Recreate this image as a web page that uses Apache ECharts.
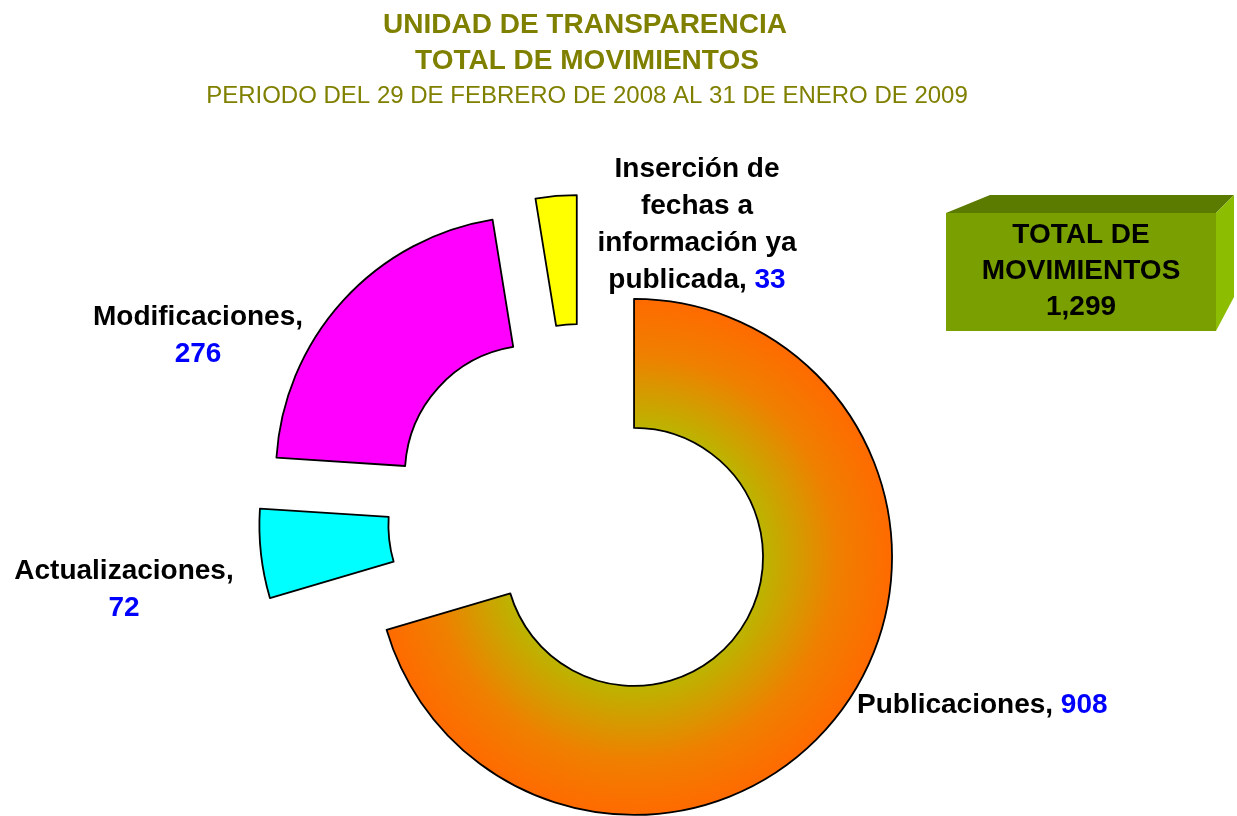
<!DOCTYPE html>
<html>
<head>
<meta charset="utf-8">
<script src="https://cdn.jsdelivr.net/npm/echarts@6/dist/echarts.min.js"></script>
<style>
body{margin:0;background:#fff;}
#chart{width:1237px;height:816px;}
</style>
</head>
<body>
<div id="chart"></div>
<script type="text/javascript">
var categorias = ['Publicaciones', 'Actualizaciones', 'Modificaciones', 'Inserción de\nfechas a\ninformación ya\npublicada'];
var movimientos = [908, 72, 276, 33];
var totalMovimientos = 1299;
var titulos = ['UNIDAD DE TRANSPARENCIA', 'TOTAL DE MOVIMIENTOS', 'PERIODO DEL 29 DE FEBRERO DE 2008 AL 31 DE ENERO DE 2009'];

// posicion de cada etiqueta (centro del bloque de texto) y separador nombre/valor
var etiquetas = [
  {x: 857, y: 705, align: 'left', sep: ' '},
  {x: 124, y: 590, align: 'center', sep: '\n'},
  {x: 198, y: 336, align: 'center', sep: '\n'},
  {x: 697, y: 225, align: 'center', sep: ' '}
];

var fuente = '"Liberation Sans", Arial, sans-serif';
var oliva = '#808000';

var degradado = {
  type: 'radial', x: 0.4896, y: 0.5, r: 0.5104,
  colorStops: [
    {offset: 0, color: '#bcb400'},
    {offset: 0.5, color: '#bcb400'},
    {offset: 0.78, color: '#ef8000'},
    {offset: 1, color: '#ff6a00'}
  ]
};
var colores = [degradado, '#00ffff', '#ff00ff', '#ffff00'];

function fmt(n) {
  return n.toLocaleString('en-US');
}

var datos = [];
for (var i = 0; i < categorias.length; i++) {
  datos.push({
    name: categorias[i],
    value: movimientos[i],
    selected: true,
    itemStyle: {color: colores[i]}
  });
}

var estiloEtiqueta = {
  n: {fill: '#000', fontFamily: fuente, fontWeight: 'bold', fontSize: 28, lineHeight: 37},
  v: {fill: '#0000ff', fontFamily: fuente, fontWeight: 'bold', fontSize: 28, lineHeight: 37}
};

// etiquetas de los sectores, armadas con los mismos nombres y valores
var textos = [];
for (var j = 0; j < categorias.length; j++) {
  var e = etiquetas[j];
  var lineas = (categorias[j] + ',').split('\n');
  if (e.sep == ' ') lineas[lineas.length - 1] += ' ';
  var partes = lineas.map(function (s) { return '{n|' + s + '}'; });
  textos.push({
    type: 'text', x: e.x, y: e.y,
    style: {
      text: partes.join('\n') + (e.sep == ' ' ? '' : '\n') + '{v|' + fmt(movimientos[j]) + '}',
      rich: estiloEtiqueta,
      align: e.align, verticalAlign: 'middle'
    }
  });
}

var caja = [
  {type: 'polygon', shape: {points: [[946, 213], [990, 195], [1234, 195], [1216, 213]]},
   style: {fill: '#5b7a00'}},
  {type: 'polygon', shape: {points: [[1216, 213], [1234, 195], [1234, 297], [1216, 331]]},
   style: {fill: '#8cbd00'}},
  {type: 'rect', shape: {x: 946, y: 213, width: 270, height: 118},
   style: {fill: '#79a000'}},
  {type: 'text', x: 1081, y: 271,
   style: {text: 'TOTAL DE\nMOVIMIENTOS\n' + fmt(totalMovimientos),
     align: 'center', verticalAlign: 'middle', fill: '#000',
     font: 'bold 28px ' + fuente, lineHeight: 36}}
];

var chart = echarts.init(document.getElementById('chart'));
chart.setOption({
  animation: false,
  title: [
    {text: titulos[0], left: 580, top: 6, textAlign: 'center',
     textStyle: {color: oliva, fontFamily: fuente, fontWeight: 'bold', fontSize: 28}},
    {text: titulos[1], left: 582, top: 42, textAlign: 'center',
     textStyle: {color: oliva, fontFamily: fuente, fontWeight: 'bold', fontSize: 28}},
    {text: titulos[2], left: 582, top: 79, textAlign: 'center',
     textStyle: {color: oliva, fontFamily: fuente, fontWeight: 'normal', fontSize: 24}}
  ],
  graphic: caja.concat(textos),
  series: [{
    type: 'pie',
    center: [582, 518],
    radius: [129, 258],
    startAngle: 90,
    clockwise: true,
    selectedMode: 'multiple',
    selectedOffset: 65,
    emphasis: {disabled: true},
    itemStyle: {borderColor: '#000', borderWidth: 1.8},
    select: {itemStyle: {borderColor: '#000', borderWidth: 1.8}},
    label: {show: false},
    labelLine: {show: false},
    data: datos
  }]
});
</script>
</body>
</html>
